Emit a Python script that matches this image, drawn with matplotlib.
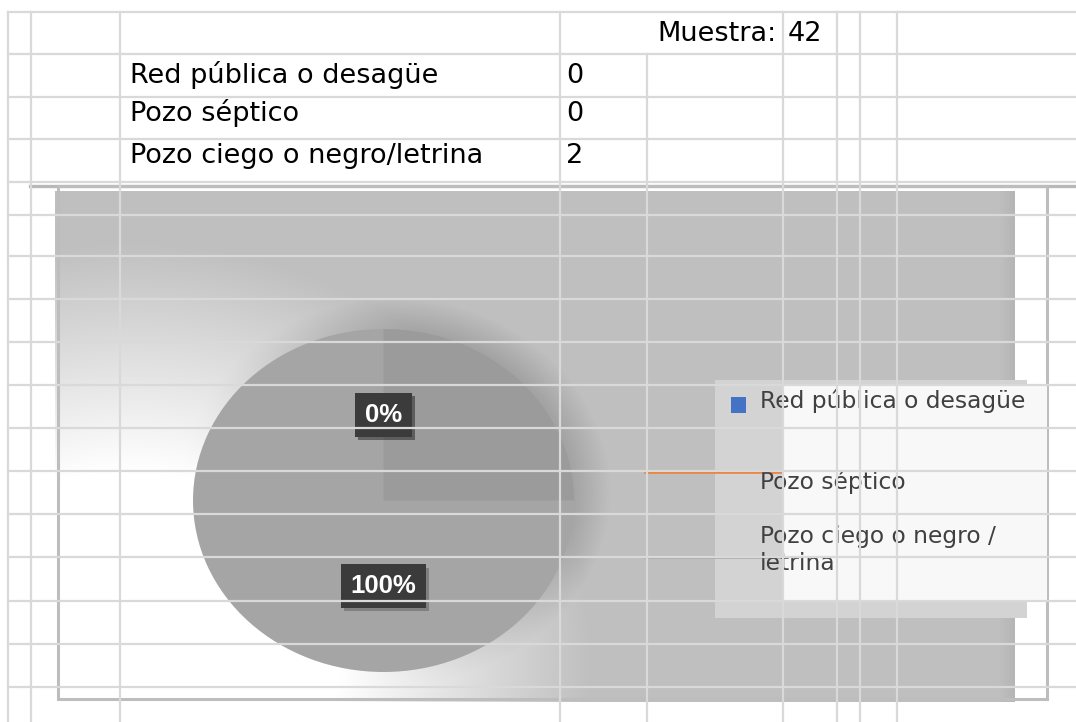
import numpy as np
import matplotlib
matplotlib.use("Agg")
import matplotlib.pyplot as plt
from matplotlib.patches import Rectangle, Wedge
from matplotlib.lines import Line2D
import matplotlib.patheffects as pe

# ---------------- data ----------------
categories = ["Red pública o desagüe", "Pozo séptico", "Pozo ciego o negro/letrina"]
counts = [0, 0, 2]
legend_labels = ["Red pública o desagüe", "Pozo séptico", "Pozo ciego o negro /\nletrina"]
sample_label = "Muestra:"
sample_size = 42
colors = ["#4472c4", "#ed7d31", "#a5a5a5"]

# ---------------- figure ----------------
W, H = 1076, 722
fig = plt.figure(figsize=(W / 100, H / 100), dpi=100)
fig.patch.set_facecolor("white")


def px_axes(z):
    ax = fig.add_axes([0, 0, 1, 1], zorder=z)
    ax.set_xlim(0, W)
    ax.set_ylim(H, 0)
    ax.axis("off")
    ax.patch.set_alpha(0)
    return ax


# ---- background: chart area with soft glow / shadow ----
bg = px_axes(0)
x0, x1, y0, y1 = 55, 1015, 191, 702
xs = np.arange(x0, x1) + 0.5
ys = np.arange(y0, y1) + 0.5
X, Y = np.meshgrid(xs, ys)
L = np.full(X.shape, 191.0)
d = np.hypot((X - 130) / 420.0, (Y - 660) / 380.0)
g = np.clip((1.1 - d) / 0.6, 0, 1)
d2 = np.hypot((X - 395) / 190.5, (Y - 492) / 171.5)
k = np.clip((1.13 - d2) / 0.2, 0, 1)
L = L + 64 * g - 28 * k * (1 - g)
edge = np.clip((X - (x1 - 16)) / 16.0, 0, 1)
L -= 10 * edge
img = np.clip(L, 0, 255) / 255.0
bg.imshow(np.dstack([img] * 3), extent=(x0, x1, y1, y0), interpolation="bilinear",
          aspect="auto", zorder=1)
bg.set_xlim(0, W)
bg.set_ylim(H, 0)
frame_c = "#bdbdbd"
bg.add_line(Line2D([30, W], [186, 186], color="#b8b8b8", lw=2.4, zorder=3))
bg.add_patch(Rectangle((58, 186), 1047 - 58, 699 - 186, fill=False, ec=frame_c, lw=2.2, zorder=3))

# ---- pie ----
pcx, pcy, prx, pry = 383.5, 500.5, 190.5, 171.5
pax = fig.add_axes([(pcx - prx) / W, 1 - (pcy + pry) / H, 2 * prx / W, 2 * pry / H], zorder=1)
wedges, texts, autotexts = pax.pie(
    counts, colors=colors, startangle=90, counterclock=False,
    autopct=lambda p: f"{p:.0f}%", pctdistance=0.5, radius=1,
    wedgeprops=dict(linewidth=0),
    textprops=dict(color="white", fontsize=18.5, fontweight="bold", family="Liberation Sans"))
pax.set_aspect("auto")
pax.set_xlim(-1, 1)
pax.set_ylim(-1, 1)
pax.axis("off")
pax.patch.set_alpha(0)
pax.add_patch(Wedge((0, 0), 1, 0, 90, fc="black", alpha=0.055, lw=0, zorder=2))
for t in autotexts:
    t.set_bbox(dict(boxstyle="square,pad=0.38", fc="#3b3b3b", ec="none"))
    t.get_bbox_patch().set_path_effects(
        [pe.SimplePatchShadow(offset=(2.2, -2.2), shadow_rgbFace="black", alpha=0.22), pe.Normal()])
    t.set_zorder(5)

# ---- overlay: legend, table, gridlines ----
ov = px_axes(2)
# legend box (partly covered by unfilled sheet cells)
ov.add_patch(Rectangle((715, 380), 1027 - 715, 618 - 380, fc="#d3d3d3", ec="none", zorder=1))
ov.add_patch(Rectangle((783, 385), 1047 - 783, 600 - 385, fc="#f8f8f8", ec="none", zorder=1.5))
ov.add_patch(Rectangle((731, 397), 15, 16, fc=colors[0], ec="none", zorder=2))
for yl, c in zip([472, 557], colors[1:]):
    ov.add_line(Line2D([645, 781], [yl, yl], color=c, lw=1.8, zorder=2))
leg_base = [408, 489, 570]
for lab, yb in zip(legend_labels, leg_base):
    ov.text(760, yb, lab, fontsize=16.8, color="#404040", family="DejaVu Sans",
            va="baseline", ha="left", zorder=3)

# data table
tfs = 19.5
row_base = [83, 121, 163]
for cat, val, yb in zip(categories, counts, row_base):
    ov.text(130, yb, cat, fontsize=tfs, color="black", family="DejaVu Sans", va="baseline", zorder=3)
    ov.text(566, yb, str(val), fontsize=tfs, color="black", family="DejaVu Sans", va="baseline", zorder=3)
ov.text(776, 41, sample_label, fontsize=tfs, color="black", family="DejaVu Sans",
        va="baseline", ha="right", zorder=3)
ov.text(788, 41, str(sample_size), fontsize=tfs, color="black", family="DejaVu Sans",
        va="baseline", ha="left", zorder=3)

# sheet gridlines
gc = "#d9d9d9"
glw = 1.6
for yh in [12, 54, 97, 139, 182, 215, 256, 299, 342, 385, 428, 471, 514, 557, 601, 644, 687]:
    ov.add_line(Line2D([8, W], [yh, yh], color=gc, lw=glw, zorder=10))
for xv in [8, 31, 120, 560, 783, 837, 860, 897]:
    ov.add_line(Line2D([xv, xv], [12, H], color=gc, lw=glw, zorder=10))
ov.add_line(Line2D([647, 647], [54, H], color=gc, lw=glw, zorder=10))

fig.savefig("out.png", dpi=100, facecolor="white")
